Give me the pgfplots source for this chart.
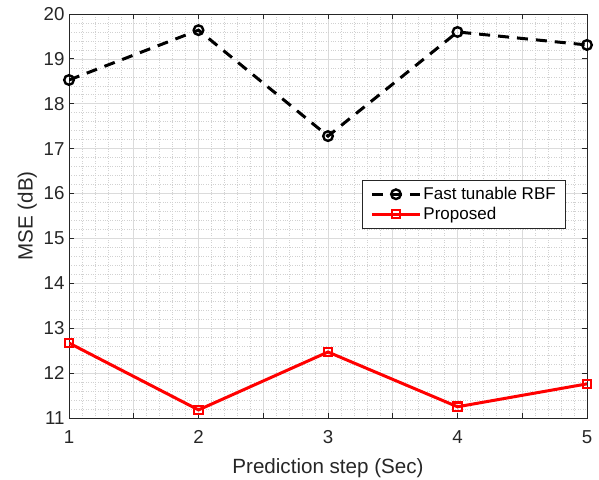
\documentclass[border=0pt]{standalone}
\usepackage{fontspec}
\setmainfont{Liberation Sans}
\usepackage{pgfplots}
\pgfplotsset{compat=1.18}
\definecolor{axgray}{RGB}{38,38,38}
\begin{document}
\begin{tikzpicture}
\begin{axis}[
  scale only axis,
  width=518pt, height=404pt,
  xmin=1, xmax=5, ymin=11, ymax=20,
  xtick={1,1.5,...,5},
  xticklabels={1,,2,,3,,4,,5},
  ytick={11,12,...,20},
  minor x tick num=4,
  minor y tick num=4,
  grid=both,
  major grid style={color=black!14, line width=0.7pt},
  minor grid style={color=black!18, dotted, line width=0.6pt},
  axis line style={color=axgray, line width=0.8pt},
  tick style={color=axgray, line width=0.8pt},
  major tick length=5pt,
  minor tick length=0pt,
  tick align=inside,
  /pgf/number format/assume math mode=true,
  ticklabel style={font=\fontsize{18.7}{22}\selectfont, text=axgray},
  xticklabel style={yshift=-9pt},
  yticklabel style={xshift=-1pt},
  xlabel={Prediction step (Sec)},
  ylabel={MSE (dB)},
  label style={font=\fontsize{20.6}{24}\selectfont, text=axgray},
  xlabel style={yshift=-8pt},
  ylabel style={yshift=0pt},
  legend style={at={(0.566,0.589)}, anchor=north west,
    font=\fontsize{17}{20}\selectfont, draw=axgray, line width=0.6pt,
    inner xsep=8pt, inner ysep=5pt, row sep=2pt},
  legend cell align=left,
  legend image code/.code={\draw[mark repeat=2,mark phase=2] plot coordinates {(0pt,0pt) (24pt,0pt) (48pt,0pt)};},
]
\addplot[black, line width=3pt, dash pattern=on 11pt off 8pt,
  mark=o, mark size=4.8pt, mark options={solid, line width=2.4pt}]
  coordinates {(1,18.53) (2,19.64) (3,17.28) (4,19.60) (5,19.31)};
\addlegendentry{Fast tunable RBF}
\addplot[red, line width=3pt,
  mark=square, mark size=4.2pt, mark options={solid, line width=2.2pt}]
  coordinates {(1,12.67) (2,11.18) (3,12.47) (4,11.25) (5,11.76)};
\addlegendentry{Proposed}
\coordinate (sw) at (rel axis cs:0,0);
\coordinate (ne) at (rel axis cs:1,1);
\end{axis}
\pgfresetboundingbox
\path[use as bounding box] ([shift={(-69pt,-62pt)}]sw) rectangle ([shift={(12pt,14pt)}]ne);
\end{tikzpicture}
\end{document}
